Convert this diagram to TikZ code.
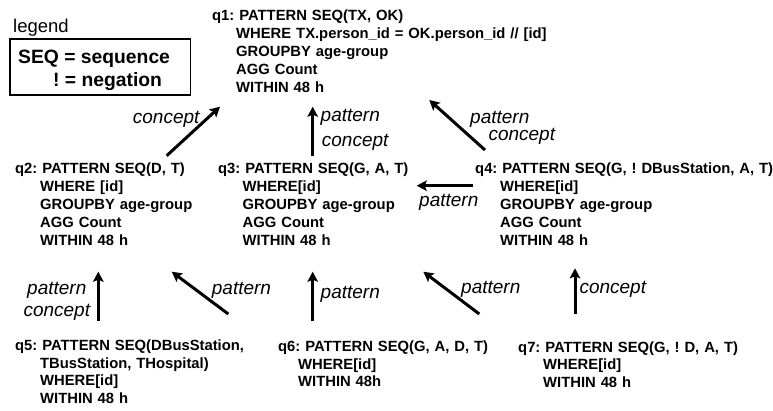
\documentclass[tikz,border=0pt]{standalone}
\usepackage{fontspec}
\setmainfont{Liberation Sans}
\usetikzlibrary{arrows.meta}
\begin{document}
\frenchspacing
\begin{tikzpicture}[x=1pt,y=-1pt,
  qtext/.style={anchor=base west, inner sep=0pt, text width=420pt, align=left,
    font=\fontsize{14.8}{18}\selectfont\bfseries\frenchspacing},
  qtextb/.style={qtext, font=\fontsize{14.8}{17.6}\selectfont\bfseries\frenchspacing},
  lbl/.style={anchor=base west, inner sep=0pt, font=\fontsize{19}{22}\selectfont\itshape},
  legtext/.style={anchor=base west, inner sep=0pt, font=\fontsize{19.3}{23}\selectfont\bfseries\frenchspacing},
  flow/.style={line width=3pt, -{Stealth[length=10pt,width=10.5pt,inset=2pt]}},
]
\useasboundingbox (0,0) rectangle (773,410);

% legend
\node[anchor=base west, inner sep=0pt, font=\fontsize{18.5}{22}\selectfont] (legtitle) at (13,32) {legend};
\draw[line width=1.5pt] (10,39) rectangle (190.7,95);
\node[legtext] (legseq) at (18,63) {SEQ = sequence};
\node[legtext] (legneg) at (53,86) {! = negation};

% queries
\node[qtext] (q1) at (212,20.5) {q1: PATTERN SEQ(TX, OK)\\\hspace*{24pt}WHERE TX.person\_id = OK.person\_id // [id]\\\hspace*{24pt}GROUPBY age-group\\\hspace*{24pt}AGG Count\\\hspace*{24pt}WITHIN 48 h};
\node[qtext] (q2) at (15,173.3) {q2: PATTERN SEQ(D, T)\\\hspace*{25pt}WHERE [id]\\\hspace*{25pt}GROUPBY age-group\\\hspace*{25pt}AGG Count\\\hspace*{25pt}WITHIN 48 h};
\node[qtext] (q3) at (218,173.3) {q3: PATTERN SEQ(G, A, T)\\\hspace*{24.5pt}WHERE[id]\\\hspace*{24.5pt}GROUPBY age-group\\\hspace*{24.5pt}AGG Count\\\hspace*{24.5pt}WITHIN 48 h};
\node[qtext] (q4) at (475,173.3) {q4: PATTERN SEQ(G, ! DBusStation, A, T)\\\hspace*{25pt}WHERE[id]\\\hspace*{25pt}GROUPBY age-group\\\hspace*{25pt}AGG Count\\\hspace*{25pt}WITHIN 48 h};
\node[qtextb] (q5) at (15,350.5) {q5: PATTERN SEQ(DBusStation,\\\hspace*{25pt}TBusStation, THospital)\\\hspace*{25pt}WHERE[id]\\\hspace*{25pt}WITHIN 48 h};
\node[qtextb] (q6) at (278,351.5) {q6: PATTERN SEQ(G, A, D, T)\\\hspace*{20pt}WHERE[id]\\\hspace*{20pt}WITHIN 48h};
\node[qtextb] (q7) at (518,352) {q7: PATTERN SEQ(G, ! D, A, T)\\\hspace*{25pt}WHERE[id]\\\hspace*{25pt}WITHIN 48 h};

% arrow end points
\coordinate (a1s) at (166.7,155.7); \coordinate (a1e) at (220,106.7);
\coordinate (a2s) at (312.7,155.7); \coordinate (a2e) at (312.7,106.7);
\coordinate (a3s) at (485,150);     \coordinate (a3e) at (429.3,100);
\coordinate (a4s) at (473.3,185.7); \coordinate (a4e) at (416.7,185.7);
\coordinate (a5s) at (98.3,320.7);  \coordinate (a5e) at (98.3,271.7);
\coordinate (a6s) at (228.3,314);   \coordinate (a6e) at (171.7,271.7);
\coordinate (a7s) at (312.7,320.7); \coordinate (a7e) at (312.7,271.7);
\coordinate (a8s) at (479.3,314);   \coordinate (a8e) at (423.3,271.7);
\coordinate (a9s) at (575,314);     \coordinate (a9e) at (575,268.3);

\draw[flow] (a1s) -- (a1e);
\draw[flow] (a2s) -- (a2e);
\draw[flow] (a3s) -- (a3e);
\draw[flow] (a4s) -- (a4e);
\draw[flow] (a5s) -- (a5e);
\draw[flow] (a6s) -- (a6e);
\draw[flow] (a7s) -- (a7e);
\draw[flow] (a8s) -- (a8e);
\draw[flow] (a9s) -- (a9e);

% labels
\node[lbl] (l1) at (132.7,123) {concept};
\node[lbl] (l2a) at (320.5,121.7) {pattern};
\node[lbl] (l2b) at (321.7,146.7) {concept};
\node[lbl] (l3a) at (470,123.3) {pattern};
\node[lbl] (l3b) at (488.3,140) {concept};
\node[lbl] (l4) at (419,206) {pattern};
\node[lbl] (l5a) at (27,294.3) {pattern};
\node[lbl] (l5b) at (23.3,316.7) {concept};
\node[lbl] (l6) at (211.7,294.3) {pattern};
\node[lbl] (l7) at (320.5,298.3) {pattern};
\node[lbl] (l8) at (461,293.3) {pattern};
\node[lbl] (l9) at (579.3,293.3) {concept};
\end{tikzpicture}
\end{document}
